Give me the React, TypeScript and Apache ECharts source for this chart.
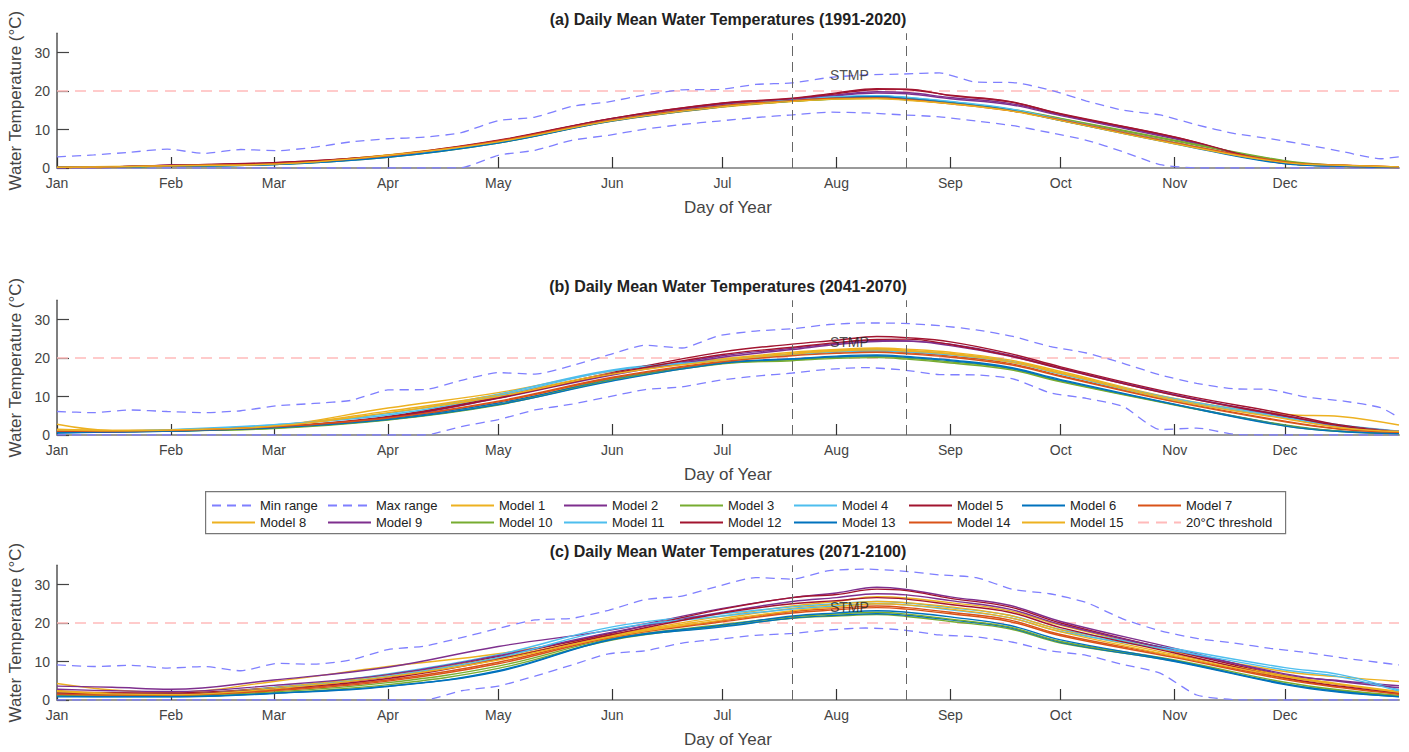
import React, { useEffect, useRef } from "react";
import * as echarts from "echarts";

// ---------- DATA ----------
const monthStarts = [1, 32, 60, 91, 121, 152, 182, 213, 244, 274, 305, 335];
const monthNames = ["Jan", "Feb", "Mar", "Apr", "May", "Jun", "Jul", "Aug", "Sep", "Oct", "Nov", "Dec"];
const yTicks = [0, 10, 20, 30];
const stmpWindow = [201, 232];
const stmpLabel = [216.5, 24.2];
const thresholdValue = 20;
const panelTitles = [
  "(a) Daily Mean Water Temperatures (1991-2020)",
  "(b) Daily Mean Water Temperatures (2041-2070)",
  "(c) Daily Mean Water Temperatures (2071-2100)",
];

const rangeDays = [1, 11, 21, 31, 41, 51, 61, 71, 81, 91, 101, 111, 121, 131, 141, 151, 161, 171, 181, 191, 201, 211, 221, 231, 241, 251, 261, 271, 281, 291, 301, 311, 321, 331, 341, 351, 361, 366];

const minRangeA = [0, 0, 0, 0, 0, 0, 0, 0, 0, 0, 0, 0.1, 3.3, 4.6, 7.2, 8.5, 10.1, 11.3, 12.2, 13.1, 13.8, 14.5, 14.3, 13.8, 13.3, 12.2, 11.0, 9.2, 7.2, 4.2, 0.9, 0, 0, 0, 0, 0, 0, 0];
const maxRangeA = [2.9, 3.4, 4.1, 4.9, 3.8, 4.8, 4.5, 5.4, 6.8, 7.6, 8.0, 9.2, 12.3, 13.2, 16.0, 17.2, 19.0, 20.3, 20.4, 21.7, 22.1, 23.5, 24.2, 24.4, 24.7, 22.3, 22.2, 20.3, 17.4, 15.0, 13.8, 11.2, 9.0, 7.6, 6.0, 4.2, 2.4, 2.9];
const minRangeB = [0, 0, 0, 0, 0, 0, 0, 0, 0, 0, 0, 2.2, 4.0, 6.5, 8.0, 9.9, 11.8, 12.5, 14.2, 15.3, 16.1, 17.1, 17.5, 16.9, 15.7, 15.6, 14.6, 11.0, 9.5, 7.4, 1.4, 1.8, 0.2, 0, 0, 0, 0, 0];
const maxRangeB = [6.1, 5.8, 6.5, 6.1, 5.8, 6.3, 7.6, 8.2, 9.0, 11.7, 11.8, 14.2, 16.2, 15.8, 18.0, 20.8, 23.3, 22.6, 25.8, 27.0, 27.6, 28.7, 29.1, 29.0, 28.4, 27.3, 25.6, 23.0, 21.3, 18.6, 15.6, 13.4, 12.0, 11.8, 9.8, 8.8, 7.1, 4.5];
const minRangeC = [0, 0, 0, 0, 0, 0, 0, 0, 0, 0, 0, 2.4, 3.6, 6.2, 9.1, 12.0, 12.8, 14.8, 15.8, 16.8, 17.3, 18.2, 18.7, 18.2, 16.9, 16.4, 15.0, 12.8, 11.6, 9.2, 7.0, 1.3, 0.1, 0, 0, 0, 0, 0];
const maxRangeC = [9.1, 8.7, 9.0, 8.3, 8.7, 7.6, 9.5, 9.3, 10.4, 13.1, 14.0, 16.2, 18.6, 20.8, 21.2, 23.3, 26.1, 27.0, 29.6, 31.8, 31.4, 33.6, 34.0, 33.5, 32.5, 31.8, 28.7, 27.6, 25.3, 21.0, 18.0, 16.0, 14.8, 13.4, 12.3, 10.9, 9.7, 9.1];

const modelDays = [1, 16, 32, 60, 91, 121, 152, 182, 201, 213, 224, 232, 244, 260, 274, 305, 335, 350, 366];

const modelsA = [
  [0.2, 0.3, 0.5, 1.1, 3.3, 6.6, 12.2, 15.8, 17.3, 18.0, 18.2, 17.8, 16.8, 15.0, 12.4, 6.5, 1.4, 0.7, 0.3],
  [0.1, 0.3, 0.7, 1.3, 3.0, 7.0, 12.8, 16.6, 17.9, 19.0, 19.8, 19.6, 18.3, 16.8, 13.8, 7.8, 1.3, 0.5, 0.2],
  [0.2, 0.2, 0.5, 0.9, 2.8, 6.5, 12.3, 16.0, 17.4, 18.0, 18.3, 17.8, 16.9, 15.2, 12.8, 7.0, 1.8, 0.6, 0.2],
  [0.3, 0.3, 0.6, 1.0, 2.9, 6.7, 12.4, 16.1, 17.6, 18.4, 18.7, 18.3, 17.2, 15.3, 12.5, 6.4, 1.2, 0.5, 0.2],
  [0.1, 0.2, 0.7, 1.4, 3.2, 7.1, 12.9, 16.9, 18.0, 19.3, 20.4, 20.5, 18.8, 17.2, 14.0, 8.0, 1.2, 0.5, 0.1],
  [0.3, 0.3, 0.5, 0.9, 2.9, 6.6, 12.3, 16.0, 17.5, 18.3, 18.6, 18.1, 17.0, 15.1, 12.4, 6.5, 1.2, 0.5, 0.2],
  [0.2, 0.3, 0.6, 1.1, 3.1, 6.9, 12.4, 16.1, 17.5, 18.1, 18.3, 17.9, 16.8, 15.0, 12.6, 6.6, 1.5, 0.7, 0.3],
  [0.2, 0.4, 0.6, 1.1, 3.4, 7.0, 12.6, 16.3, 17.7, 18.2, 18.4, 18.0, 16.9, 15.1, 12.5, 6.4, 1.3, 0.6, 0.2],
  [0.2, 0.3, 0.7, 1.2, 3.0, 6.9, 12.7, 16.5, 17.8, 18.8, 19.5, 19.3, 18.0, 16.5, 13.6, 7.6, 1.4, 0.5, 0.2],
  [0.2, 0.3, 0.5, 1.0, 2.9, 6.6, 12.3, 16.0, 17.3, 17.9, 18.1, 17.7, 16.8, 15.3, 12.9, 7.2, 1.9, 0.7, 0.2],
  [0.3, 0.3, 0.6, 1.0, 3.0, 6.8, 12.5, 16.2, 17.6, 18.5, 18.8, 18.4, 17.3, 15.4, 12.6, 6.5, 1.3, 0.5, 0.2],
  [0.2, 0.3, 0.7, 1.4, 3.3, 7.2, 12.9, 16.8, 18.1, 19.5, 20.6, 20.4, 18.9, 17.3, 14.1, 8.1, 1.3, 0.6, 0.2],
  [0.3, 0.3, 0.5, 0.9, 2.8, 6.5, 12.2, 15.9, 17.4, 18.2, 18.5, 18.0, 16.9, 15.0, 12.3, 6.3, 1.1, 0.5, 0.2],
  [0.2, 0.3, 0.6, 1.1, 3.2, 7.0, 12.5, 16.2, 17.5, 18.1, 18.2, 17.8, 16.7, 14.9, 12.5, 6.5, 1.6, 0.8, 0.3],
  [0.2, 0.3, 0.6, 1.0, 3.3, 6.8, 12.3, 15.9, 17.3, 17.9, 18.0, 17.6, 16.7, 14.9, 12.3, 6.3, 1.4, 0.7, 0.3],
];

const modelsB = [
  [2.8, 1.2, 1.2, 2.3, 7.0, 11.0, 16.6, 19.8, 21.5, 22.2, 22.6, 22.3, 21.5, 19.5, 16.5, 9.5, 5.4, 4.8, 2.6],
  [0.9, 0.9, 1.1, 2.0, 4.6, 9.8, 15.8, 20.6, 22.5, 23.8, 24.6, 24.4, 23.6, 20.8, 17.4, 10.5, 5.0, 2.4, 0.8],
  [0.8, 0.9, 1.0, 1.8, 4.0, 8.0, 14.6, 18.6, 19.5, 20.2, 20.4, 20.0, 19.0, 17.3, 14.0, 7.9, 2.6, 1.0, 0.4],
  [1.2, 1.1, 1.3, 2.6, 5.6, 10.6, 16.9, 19.5, 21.0, 21.8, 22.2, 21.8, 21.0, 19.2, 16.0, 9.4, 4.8, 2.6, 1.0],
  [0.7, 0.8, 1.1, 2.1, 4.8, 10.0, 16.2, 21.6, 23.6, 24.6, 25.6, 25.3, 24.2, 21.2, 17.7, 10.8, 5.5, 2.6, 0.9],
  [0.5, 0.8, 1.0, 1.9, 4.2, 8.3, 14.3, 18.8, 19.8, 20.5, 20.8, 20.4, 19.5, 17.6, 14.4, 8.0, 2.5, 1.0, 0.5],
  [1.0, 1.0, 1.2, 2.2, 4.5, 8.8, 15.0, 19.2, 20.8, 21.5, 21.8, 21.4, 20.5, 18.6, 15.4, 8.8, 3.6, 1.6, 0.8],
  [1.5, 1.2, 1.3, 2.4, 6.2, 10.4, 16.0, 19.6, 21.2, 22.0, 22.4, 22.0, 21.2, 19.2, 16.2, 9.2, 4.4, 2.0, 0.9],
  [0.8, 0.9, 1.1, 2.0, 4.5, 9.5, 15.6, 20.2, 22.2, 23.5, 24.3, 24.4, 23.2, 20.5, 17.2, 10.4, 4.8, 2.3, 0.9],
  [0.9, 1.0, 1.1, 1.7, 3.9, 7.8, 14.2, 18.5, 19.3, 19.9, 20.1, 19.7, 18.7, 17.0, 13.8, 7.8, 2.4, 0.9, 0.4],
  [1.1, 1.0, 1.4, 2.7, 5.2, 10.2, 16.7, 19.4, 20.9, 21.6, 21.9, 21.6, 20.8, 19.0, 15.8, 9.0, 4.5, 2.3, 0.9],
  [0.8, 0.9, 1.1, 2.0, 4.6, 9.6, 15.9, 20.9, 22.8, 24.0, 24.8, 24.9, 23.5, 20.6, 17.3, 10.3, 5.0, 2.4, 0.8],
  [0.6, 0.8, 1.0, 1.9, 4.0, 7.9, 14.0, 18.6, 19.7, 20.3, 20.6, 20.2, 19.3, 17.4, 14.2, 7.9, 2.3, 0.9, 0.4],
  [1.0, 1.0, 1.2, 2.1, 4.4, 8.6, 14.8, 19.0, 20.6, 21.2, 21.5, 21.1, 20.2, 18.3, 15.2, 8.6, 3.4, 1.5, 0.7],
  [1.3, 1.1, 1.3, 2.3, 5.8, 10.0, 15.8, 19.4, 21.0, 21.8, 22.1, 21.8, 21.0, 19.0, 16.0, 9.0, 4.2, 1.9, 0.9],
];

const modelsC = [
  [4.3, 2.6, 2.0, 4.8, 8.7, 12.0, 17.0, 21.8, 24.4, 25.6, 26.8, 26.5, 25.3, 23.2, 19.4, 12.5, 7.4, 6.0, 4.8],
  [3.6, 3.3, 2.8, 5.2, 8.5, 13.9, 18.2, 23.8, 26.6, 27.8, 29.3, 28.7, 26.8, 24.6, 20.4, 13.4, 6.5, 5.0, 3.7],
  [1.2, 1.0, 1.0, 1.8, 4.0, 8.2, 15.6, 19.2, 21.2, 21.8, 22.2, 21.7, 20.4, 18.5, 14.8, 10.1, 4.2, 2.4, 1.0],
  [2.2, 1.6, 1.6, 3.3, 6.8, 11.8, 19.0, 22.4, 24.2, 25.0, 25.6, 25.2, 24.0, 22.0, 18.3, 13.3, 8.4, 6.6, 2.6],
  [2.0, 1.9, 1.8, 3.2, 6.0, 11.3, 17.4, 23.6, 26.6, 27.4, 28.8, 28.4, 26.4, 24.2, 20.0, 12.8, 6.2, 4.0, 2.0],
  [1.0, 0.9, 0.9, 1.8, 3.6, 7.4, 15.7, 19.0, 21.3, 22.0, 22.4, 22.0, 20.8, 18.8, 15.0, 10.0, 4.0, 2.0, 0.9],
  [1.6, 1.4, 1.4, 2.6, 5.2, 9.8, 16.6, 20.6, 23.0, 23.8, 24.4, 24.0, 22.8, 20.8, 17.0, 11.3, 5.6, 3.4, 1.6],
  [2.5, 1.7, 1.5, 3.2, 6.5, 10.9, 16.8, 21.2, 23.8, 24.8, 25.6, 25.3, 24.2, 22.0, 18.2, 11.8, 6.3, 4.2, 2.2],
  [2.8, 2.4, 2.2, 3.8, 6.6, 11.5, 17.6, 22.8, 25.6, 26.6, 27.6, 27.3, 25.8, 23.6, 19.6, 12.9, 6.8, 4.8, 3.2],
  [1.4, 1.2, 1.2, 2.1, 4.5, 8.8, 16.0, 19.6, 21.6, 22.3, 22.8, 22.3, 21.0, 19.0, 15.2, 10.4, 4.6, 2.6, 1.2],
  [1.8, 1.5, 1.5, 3.0, 6.2, 11.0, 18.4, 21.8, 23.6, 24.4, 25.0, 24.7, 23.4, 21.4, 17.8, 12.8, 7.8, 6.0, 2.3],
  [1.8, 1.6, 1.6, 2.9, 5.6, 10.6, 17.0, 22.6, 25.0, 25.8, 26.6, 26.2, 24.8, 22.8, 18.8, 12.2, 5.8, 3.6, 1.8],
  [0.8, 0.8, 0.8, 1.7, 3.5, 7.6, 15.8, 19.4, 21.8, 22.6, 23.2, 22.8, 21.6, 19.4, 15.6, 10.2, 4.2, 2.2, 0.8],
  [1.5, 1.3, 1.3, 2.4, 4.9, 9.4, 16.3, 20.3, 22.6, 23.4, 24.0, 23.6, 22.4, 20.4, 16.7, 11.0, 5.3, 3.2, 1.5],
  [2.2, 1.6, 1.4, 2.9, 6.0, 10.4, 16.5, 20.8, 23.2, 24.2, 25.0, 24.7, 23.6, 21.4, 17.7, 11.4, 6.0, 4.0, 2.0],
];

const modelNames = Array.from({ length: 15 }, (_, i) => "Model " + (i + 1));
const legendRow1 = ["Min range", "Max range", "Model 1", "Model 2", "Model 3", "Model 4", "Model 5", "Model 6", "Model 7"];
const legendRow2 = ["Model 8", "Model 9", "Model 10", "Model 11", "Model 12", "Model 13", "Model 14", "Model 15", "20°C threshold"];

// ---------- STYLE / LAYOUT ----------
const FONT = 'Arial, "Liberation Sans", Helvetica, sans-serif';
const modelColors = ["#EDB120", "#7E2F8E", "#77AC30", "#4DBEEE", "#A2142F", "#0072BD", "#D95319"];
const RANGE_COLOR = "#7f7fff";
const THRESH_COLOR = "#ffbaba";
const GRID_LEFT = 57;
const GRID_W = 1342;
const GRID_H = 134.75;
const gridTops = [33.25, 300.25, 565.25];
const legendCols = [211, 327, 450, 563, 679, 793, 908, 1021, 1137];
const legendRowTops = [499, 516];

const panels = [
  { title: panelTitles[0], minR: minRangeA, maxR: maxRangeA, models: modelsA },
  { title: panelTitles[1], minR: minRangeB, maxR: maxRangeB, models: modelsB },
  { title: panelTitles[2], minR: minRangeC, maxR: maxRangeC, models: modelsC },
];

function buildOption() {
  const grid: any[] = [];
  const xAxis: any[] = [];
  const yAxis: any[] = [];
  const title: any[] = [];
  const series: any[] = [];

  panels.forEach((p, i) => {
    grid.push({ left: GRID_LEFT, top: gridTops[i], width: GRID_W, height: GRID_H, containLabel: false, outerBoundsMode: "none" });
    title.push({
      text: p.title,
      left: 728,
      top: gridTops[i] - 22,
      textAlign: "center",
      padding: 0,
      textStyle: { fontSize: 16, fontWeight: "bold", color: "#222", fontFamily: FONT },
    });
    xAxis.push({
      gridIndex: i,
      type: "value",
      min: 1,
      max: 366,
      axisLine: { show: true, lineStyle: { color: "#999", width: 2 } },
      axisTick: { show: true, inside: true, length: 11, customValues: monthStarts, lineStyle: { color: "#333", width: 1.2 } },
      axisLabel: {
        customValues: monthStarts,
        formatter: (v: number) => monthNames[monthStarts.indexOf(v)] || "",
        color: "#444",
        fontSize: 14,
        margin: 8,
        fontFamily: FONT,
      },
      splitLine: { show: false },
      name: "Day of Year",
      nameLocation: "middle",
      nameGap: 31,
      nameTextStyle: { fontSize: 17, color: "#444", fontFamily: FONT },
    });
    yAxis.push({
      gridIndex: i,
      type: "value",
      min: 0,
      max: 35,
      axisLine: { show: true, lineStyle: { color: "#555", width: 1.5 } },
      axisTick: { show: true, inside: true, length: 12, customValues: yTicks, lineStyle: { color: "#444", width: 1.2 } },
      axisLabel: { customValues: yTicks, color: "#444", fontSize: 14, margin: 7, fontFamily: FONT },
      splitLine: { show: false },
      name: "Water Temperature (°C)",
      nameLocation: "middle",
      nameGap: 29,
      nameTextStyle: { fontSize: 17, color: "#444", fontFamily: FONT },
    });

    const common = { xAxisIndex: i, yAxisIndex: i, symbol: "none", showSymbol: false, silent: true, animation: false };

    series.push({
      ...common,
      type: "line",
      name: "Min range",
      smooth: 0.2,
      data: rangeDays.map((d, k) => [d, p.minR[k]]),
      lineStyle: { color: RANGE_COLOR, width: 1.3, type: [9, 6] },
      itemStyle: { color: RANGE_COLOR },
      z: 2,
    });
    series.push({
      ...common,
      type: "line",
      name: "Max range",
      smooth: 0.2,
      data: rangeDays.map((d, k) => [d, p.maxR[k]]),
      lineStyle: { color: RANGE_COLOR, width: 1.3, type: [9, 6] },
      itemStyle: { color: RANGE_COLOR },
      z: 2,
    });
    p.models.forEach((vals, m) => {
      const c = modelColors[m % 7];
      series.push({
        ...common,
        type: "line",
        name: modelNames[m],
        smooth: 0.4,
        data: modelDays.map((d, k) => [d, vals[k]]),
        lineStyle: { color: c, width: 1.4 },
        itemStyle: { color: c },
        z: 3,
      });
    });
    series.push({
      ...common,
      type: "line",
      name: "20°C threshold",
      data: [
        [1, thresholdValue],
        [366, thresholdValue],
      ],
      lineStyle: { color: THRESH_COLOR, width: 1.6, type: [11, 7] },
      itemStyle: { color: THRESH_COLOR },
      z: 1,
    });
    series.push({
      type: "scatter",
      name: "STMP",
      xAxisIndex: i,
      yAxisIndex: i,
      silent: true,
      symbolSize: 1,
      itemStyle: { color: "rgba(0,0,0,0)" },
      data: [stmpLabel],
      label: { show: true, position: "inside", formatter: "STMP", fontSize: 14, color: "#222", fontFamily: FONT },
      markLine: {
        silent: true,
        symbol: ["none", "none"],
        label: { show: false },
        lineStyle: { color: "#666", width: 1, type: [10, 6] },
        data: stmpWindow.map((d) => ({ xAxis: d })),
      },
      z: 5,
    });
  });

  const legendNames = [...legendRow1, ...legendRow2];
  const legend = legendNames.map((n, idx) => ({
    data: [n],
    left: legendCols[idx % 9],
    top: legendRowTops[idx < 9 ? 0 : 1],
    padding: 0,
    itemGap: 0,
    itemWidth: 43,
    itemHeight: 14,
    selectedMode: false,
    itemStyle: { opacity: 0 },
    textStyle: { fontSize: 13, color: "#222", fontFamily: FONT },
  }));

  return {
    animation: false,
    backgroundColor: "#fff",
    textStyle: { fontFamily: FONT },
    title,
    grid,
    xAxis,
    yAxis,
    legend,
    graphic: [
      {
        type: "rect",
        left: 205,
        top: 491,
        shape: { width: 1080, height: 42 },
        style: { fill: "#fff", stroke: "#777", lineWidth: 1.2 },
        z: 0,
        silent: true,
      },
    ],
    series,
  };
}

export default function App() {
  const ref = useRef<HTMLDivElement>(null);
  useEffect(() => {
    if (!ref.current) return;
    const chart = echarts.init(ref.current, null, { renderer: "svg" });
    chart.setOption(buildOption() as any);
    return () => chart.dispose();
  }, []);
  return (
    <div
      ref={ref}
      style={{ position: "fixed", left: 0, top: 0, width: 1409, height: 752, background: "#fff" }}
    />
  );
}
